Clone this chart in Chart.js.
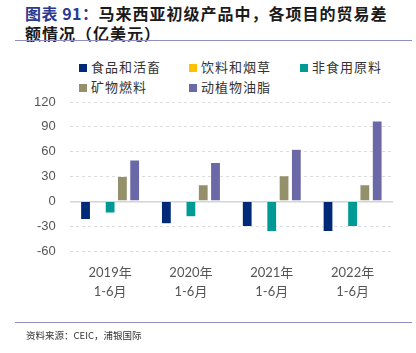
<!DOCTYPE html>
<html>
<head>
<meta charset="utf-8">
<script src="https://cdn.jsdelivr.net/npm/chart.js@4"></script>
<style>
  body { margin:0; width:416px; height:353px; background:#fff; position:relative; overflow:hidden;
         font-family:"Noto Sans CJK SC", sans-serif; }
  .title { position:absolute; left:25px; top:3px; width:400px; font-size:16px; font-weight:bold;
           line-height:20px; color:#1a1a1a; letter-spacing:1px; white-space:nowrap; }
  .title .no { color:#2B3990; letter-spacing:0.5px; }
  .rule { position:absolute; left:15px; width:397px; height:0; border-top:1.5px solid #8F8FC4; }
  .legend { position:absolute; left:79px; top:57px; width:330px; font-size:13px; color:#333; }
  .legend span.item { position:absolute; white-space:nowrap; letter-spacing:1px; }
  .legend i { display:inline-block; width:8px; height:8px; margin-right:4px; }
  .src { position:absolute; left:26px; top:328px; font-size:9.5px; color:#333; }
  #c { position:absolute; left:0; top:0; }
</style>
</head>
<body>
<div class="title"><span class="no">图表 91：</span>马来西亚初级产品中，各项目的贸易差<br>额情况（亿美元）</div>
<div class="rule" style="top:40px"></div>
<div class="legend" id="legend"></div>
<canvas id="c" width="416" height="353"></canvas>
<div class="rule" style="top:322px"></div>
<div class="src">资料来源：CEIC，浦银国际</div>
<script>
// 数据（亿美元）
const categories = [['2019年','1-6月'], ['2020年','1-6月'], ['2021年','1-6月'], ['2022年','1-6月']];
const seriesNames = ['食品和活畜', '饮料和烟草', '非食用原料', '矿物燃料', '动植物油脂'];
const food     = [-22, -27, -30.5, -36.5];
const beverage = [-0.5, -0.5, -0.5, -1];
const crude    = [-14, -18.5, -36.5, -30.5];
const mineral  = [30, 20, 31, 20];
const oils     = [50, 47, 63, 97];
const yTicks   = [-60, -30, 0, 30, 60, 90, 120];
const colors = ['#002A78', '#FFC000', '#009A96', '#94906A', '#6A68A6'];

const values = [food, beverage, crude, mineral, oils];

// 图例，三列布局
const legend = document.getElementById('legend');
seriesNames.forEach((name, i) => {
  const el = document.createElement('span');
  el.className = 'item';
  el.style.left = [0, 110, 221][i % 3] + 'px';
  el.style.top = (Math.floor(i / 3) * 20) + 'px';
  el.innerHTML = '<i style="background:' + colors[i] + '"></i>' + name;
  legend.appendChild(el);
});

new Chart(document.getElementById('c').getContext('2d'), {
  type: 'bar',
  data: {
    labels: categories,
    datasets: seriesNames.map((name, i) => ({
      label: name,
      data: values[i],
      backgroundColor: colors[i],
      borderColor: 'rgba(255,255,255,0.35)',
      borderWidth: 0.5,
      categoryPercentage: 0.76,
      barPercentage: 0.8
    }))
  },
  options: {
    responsive: false,
    animation: false,
    layout: { padding: { left: 20, right: 23, top: 102, bottom: 47 } },
    plugins: { legend: { display: false }, tooltip: { enabled: false } },
    scales: {
      x: {
        grid: { display: false },
        border: { display: false },
        ticks: { color: '#555', font: { family: 'Lato, "Noto Sans CJK SC", sans-serif', size: 13, lineHeight: 1.5 }, padding: 4 }
      },
      y: {
        min: -60, max: 120,
        afterBuildTicks: axis => { axis.ticks = yTicks.map(v => ({ value: v })); },
        grid: {
          color: ctx => ctx.tick && ctx.tick.value === 0 ? '#D4D4D4' : '#DCDCDC',
          lineWidth: ctx => ctx.tick && ctx.tick.value === 0 ? 1.5 : 1,
          drawTicks: false
        },
        border: { display: false, dash: ctx => ctx.tick && ctx.tick.value === 0 ? [] : [3, 3] },
        ticks: { color: '#555', font: { family: '"Liberation Sans", sans-serif', size: 13 }, padding: 14 }
      }
    }
  }
});
</script>
</body>
</html>
